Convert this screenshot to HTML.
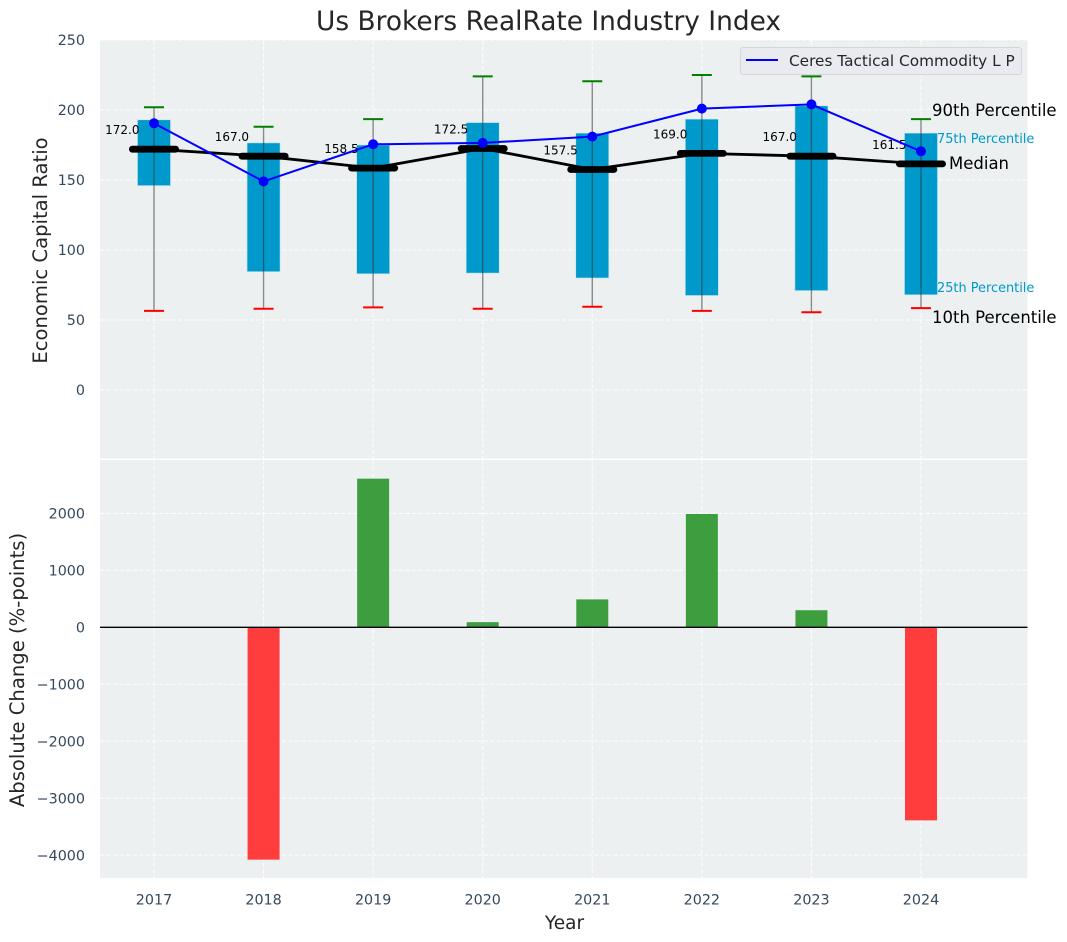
<!DOCTYPE html>
<html>
<head>
<meta charset="utf-8">
<title>Us Brokers RealRate Industry Index</title>
<style>
html,body{margin:0;padding:0;background:#fff;width:1067px;height:942px;overflow:hidden}
svg{display:block;font-family:"DejaVu Sans","Liberation Sans",sans-serif}
</style>
</head>
<body>
<svg id="chart" xmlns="http://www.w3.org/2000/svg" width="1067" height="942" viewBox="0 0 1067 942"></svg>
<script>
const years = [2017, 2018, 2019, 2020, 2021, 2022, 2023, 2024];
const p90 = [202, 188, 193.5, 224, 220.5, 225, 224, 193.5];
const q3 = [193, 176.5, 175, 191, 183.5, 193.5, 203, 183.5];
const medians = [172, 167, 158.5, 172.5, 157.5, 169, 167, 161.5];
const q1 = [146, 84.5, 83, 83.5, 80, 67.5, 71, 68];
const p10 = [56.5, 58, 59, 58, 59.5, 56.5, 55.5, 58.5];
const fund = [190.5, 149, 175.5, 176.5, 181, 201, 204, 170.5];
const changes = [0, -4080, 2610, 90, 490, 1990, 300, -3390];
const topTicks = [0, 50, 100, 150, 200, 250];
const bottomTicks = [-4000, -3000, -2000, -1000, 0, 1000, 2000];
const medianLabels = ['172.0', '167.0', '158.5', '172.5', '157.5', '169.0', '167.0', '161.5'];

const NS = 'http://www.w3.org/2000/svg';
const svg = document.getElementById('chart');
const L = 100, R = 1027.5, T1 = 40, B1 = 458.5, T2 = 460, B2 = 878;
const fx = y => 154 + (y - 2017) * 109.57;
const fy = v => 390 - v * 1.4;
const gy = v => 627.3 - v * 0.05695;

function el(tag, attrs, parent) {
  const e = document.createElementNS(NS, tag);
  for (const k in attrs) e.setAttribute(k, attrs[k]);
  (parent || svg).appendChild(e);
  return e;
}
function tx(str, attrs) {
  const e = el('text', attrs);
  e.textContent = str;
  return e;
}
let n;

n = el('rect', {x: L, y: T1, width: R - L, height: B1 - T1, fill: '#ecf0f1'});


n = el('rect', {x: L, y: T2, width: R - L, height: B2 - T2, fill: '#ecf0f1'});



const gridStyle = {stroke: '#ffffff', 'stroke-width': 1.1, 'stroke-dasharray': '4.5 2', opacity: 0.85, fill: 'none'};
years.forEach(y => {
  n = el('line', Object.assign({x1: fx(y), x2: fx(y), y1: T1, y2: B1}, gridStyle));
  
  
  n = el('line', Object.assign({x1: fx(y), x2: fx(y), y1: T2, y2: B2}, gridStyle));
  
  
  n = tx(String(y), {x: fx(y), y: 904.5, 'text-anchor': 'middle', 'font-size': 14.3, fill: '#34495e'});
  
  
});
topTicks.forEach(v => {
  n = el('line', Object.assign({x1: L, x2: R, y1: fy(v), y2: fy(v)}, gridStyle));
  
  
  n = tx(String(v), {x: 85, y: fy(v) + 5.2, 'text-anchor': 'end', 'font-size': 14.3, fill: '#34495e'});
  
  
});
bottomTicks.forEach(v => {
  n = el('line', Object.assign({x1: L, x2: R, y1: gy(v), y2: gy(v)}, gridStyle));
  
  
  n = tx(String(v).replace('-', '\u2212'), {x: 85, y: gy(v) + 5.2, 'text-anchor': 'end', 'font-size': 14.3, fill: '#34495e'});
  
  
});

/* percentile boxes */
years.forEach((y, i) => {
  n = el('rect', {x: fx(y) - 16.5, y: fy(q3[i]), width: 33, height: fy(q1[i]) - fy(q3[i]), fill: '#0099cc', stroke: '#bfe3ee', 'stroke-width': 0.6});
  
  
});
/* whiskers and caps */
years.forEach((y, i) => {
  n = el('line', {x1: fx(y), x2: fx(y), y1: fy(p90[i]), y2: fy(p10[i]), stroke: '#333333', 'stroke-width': 1.4, opacity: 0.55});
  
  
  n = el('line', {x1: fx(y) - 10, x2: fx(y) + 10, y1: fy(p90[i]), y2: fy(p90[i]), stroke: '#008000', 'stroke-width': 2});
  
  
  n = el('line', {x1: fx(y) - 10, x2: fx(y) + 10, y1: fy(p10[i]), y2: fy(p10[i]), stroke: '#ff0000', 'stroke-width': 2});
  
  
});
/* median line */
n = el('polyline', {points: years.map((y, i) => fx(y) + ',' + fy(medians[i])).join(' '), fill: 'none', stroke: '#000', 'stroke-width': 2.8});


years.forEach((y, i) => {
  n = el('line', {x1: fx(y) - 21.6, x2: fx(y) + 21.6, y1: fy(medians[i]), y2: fy(medians[i]), stroke: '#000', 'stroke-width': 6.8, 'stroke-linecap': 'round'});
  
  
  n = tx(medianLabels[i], {x: fx(y) - 14.5, y: fy(medians[i]) - 15, 'text-anchor': 'end', 'font-size': 12, fill: '#000'});
  
  
});
/* fund line */
n = el('polyline', {points: years.map((y, i) => fx(y) + ',' + fy(fund[i])).join(' '), fill: 'none', stroke: '#0000ff', 'stroke-width': 2});


years.forEach((y, i) => {
  n = el('circle', {cx: fx(y), cy: fy(fund[i]), r: 5, fill: '#0000ff'});
  
  
});

/* change bars */
years.forEach((y, i) => {
  const v = changes[i];
  if (v === 0) return;
  const top = Math.min(gy(0), gy(v));
  const h = Math.abs(gy(v) - gy(0));
  n = el('rect', {x: fx(y) - 16, y: top, width: 32, height: h, fill: v > 0 ? '#3c9e3f' : '#ff3d3d'});
  
  
});
n = el('line', {x1: L, x2: R, y1: gy(0), y2: gy(0), stroke: '#000', 'stroke-width': 1.4});



/* percentile annotations */
n = tx('90th Percentile', {x: 932, y: 116, 'font-size': 16.5, fill: '#000'});


n = tx('75th Percentile', {x: 937, y: 143, 'font-size': 12.9, fill: '#0099cc'});


n = tx('Median', {x: 949, y: 169, 'font-size': 16.5, fill: '#000'});


n = tx('25th Percentile', {x: 937, y: 292, 'font-size': 12.9, fill: '#0099cc'});


n = tx('10th Percentile', {x: 932, y: 323, 'font-size': 16.5, fill: '#000'});



/* legend */
const lg = el('g', {});


n = el('rect', {x: 740.5, y: 47.5, width: 281, height: 27, rx: 2.5, fill: '#eaebf1', stroke: '#d5d6da', 'stroke-width': 1}, lg);


n = el('line', {x1: 746, x2: 778, y1: 60, y2: 60, stroke: '#0000ff', 'stroke-width': 2}, lg);


n = el('text', {x: 789, y: 66, 'font-size': 15.3, fill: '#262626'}, lg);
n.textContent = 'Ceres Tactical Commodity L P';



/* titles */
n = tx('Us Brokers RealRate Industry Index', {x: 548.5, y: 30, 'text-anchor': 'middle', 'font-size': 26.4, fill: '#262626'});


n = tx('Economic Capital Ratio', {x: 0, y: 0, transform: 'translate(47,250.5) rotate(-90)', 'text-anchor': 'middle', 'font-size': 19.6, fill: '#262626'});


n = tx('Absolute Change (%-points)', {x: 0, y: 0, transform: 'translate(24,670) rotate(-90)', 'text-anchor': 'middle', 'font-size': 19.6, fill: '#262626'});


n = tx('Year', {x: 564.5, y: 929, 'text-anchor': 'middle', 'font-size': 18.5, fill: '#262626'});


</script>
</body>
</html>
